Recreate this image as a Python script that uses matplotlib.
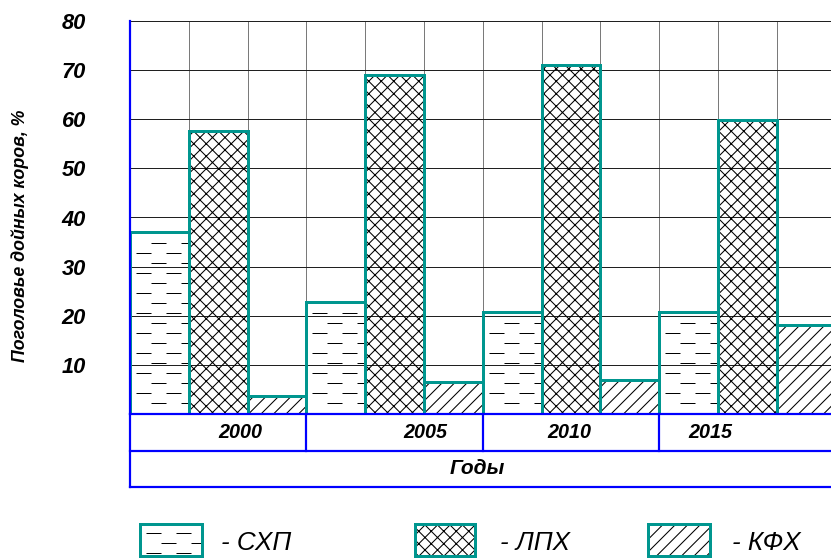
import numpy as np
import matplotlib
matplotlib.use('Agg')
import matplotlib.pyplot as plt
from matplotlib.patches import Rectangle
from matplotlib.lines import Line2D

# ---- data ----
years = ['2000', '2005', '2010', '2015']
series = ['СХП', 'ЛПХ', 'КФХ']
shp = [37.1, 22.8, 20.8, 20.7]
lph = [57.6, 69.0, 71.1, 59.9]
kfh = [3.7, 6.6, 6.9, 18.1]
y_ticks = [10, 20, 30, 40, 50, 60, 70, 80]
x_title = 'Годы'
y_title = 'Поголовье дойных коров, %'

# ---- style ----
DPI = 150
W, H = 831, 558
TEAL = '#00968F'
BLUE = '#0000FF'
FONT = ['Liberation Sans', 'DejaVu Sans']
plt.rcParams['hatch.linewidth'] = 0.5
plt.rcParams['lines.scale_dashes'] = False
px = 72.0 / DPI  # points per pixel

fig = plt.figure(figsize=(W / DPI, H / DPI), dpi=DPI)
fig.patch.set_facecolor('white')

def frac_x(p):
    return p / W

def frac_y(p):
    return p / H

ax_left, ax_right = 130, 835.5
ax_top, ax_bot = 21, 414
ax = fig.add_axes([frac_x(ax_left), frac_y(H - ax_bot), frac_x(ax_right - ax_left), frac_y(ax_bot - ax_top)])
ax.set_facecolor('none')
n_s = len(series)
n_g = len(years)
ax.set_xlim(0, n_s * n_g)
ax.set_ylim(0, 80)

# grid
ax.set_xticks(np.arange(0, n_s * n_g + 1))
ax.set_xticklabels([])
ax.set_yticks([0] + y_ticks)
ax.set_yticklabels([''] + [str(t) for t in y_ticks])
ax.tick_params(length=0, pad=44 * px)
for lab in ax.get_yticklabels():
    lab.set_fontfamily(FONT)
    lab.set_fontweight('bold')
    lab.set_fontstyle('italic')
    lab.set_fontsize(10.5)
ax.xaxis.grid(True, color='#7a7a7a', linewidth=1.0 * px, zorder=0)
ax.yaxis.grid(True, color='#202020', linewidth=1.0 * px, zorder=0)
ax.set_axisbelow(True)

ax.spines['right'].set_visible(False)
ax.spines['top'].set_color('#202020')
ax.spines['top'].set_linewidth(1.0 * px)
ax.spines['left'].set_color(BLUE)
ax.spines['left'].set_linewidth(2.2 * px)
ax.spines['bottom'].set_color(BLUE)
ax.spines['bottom'].set_linewidth(2.2 * px)
ax.spines['left'].set_zorder(6)
ax.spines['bottom'].set_zorder(6)

vals = [shp, lph, kfh]
hatches = [None, 'xxxx', '////']
DASH = 15 * px
ROW = 10 / ((ax_bot - ax_top) / 80.0)  # 10 px in data units

def dashed_fill(axis, patch, x0, x1, top, base_off):
    rows = np.arange(base_off, top, ROW)
    for i, yy in enumerate(rows):
        off = 0 if i % 2 == 0 else DASH
        ln = Line2D([x0, x1], [yy, yy], color='black', linewidth=1.0 * px,
                    linestyle=(off, (DASH, DASH)), zorder=3)
        axis.add_line(ln)
        ln.set_clip_path(patch)

for s in range(n_s):
    xs = np.arange(n_g) * n_s + s + 0.5
    if hatches[s] is not None:
        ax.bar(xs, vals[s], width=1.0, facecolor='none', edgecolor='black',
               linewidth=0, hatch=hatches[s], zorder=2)
    bars = ax.bar(xs, vals[s], width=1.0, facecolor='none', edgecolor=TEAL,
                  linewidth=3.0 * px, zorder=4)
    if hatches[s] is None:
        for b in bars:
            dashed_fill(ax, b, b.get_x() + 0.1, b.get_x() + b.get_width(),
                        b.get_height(), 0.3)

# ---- category table below ----
t_bot = 487
tab = fig.add_axes([frac_x(ax_left), frac_y(H - t_bot), frac_x(ax_right - ax_left), frac_y(t_bot - ax_bot)])
tab.set_xlim(0, n_s * n_g)
tab.set_ylim(0, 2)
tab.axis('off')
lw_t = 2.2 * px
tab.plot([0, n_s * n_g], [1, 1], color=BLUE, lw=lw_t, clip_on=False)
tab.plot([0, n_s * n_g], [0, 0], color=BLUE, lw=lw_t, clip_on=False)
tab.plot([0, 0], [0, 2], color=BLUE, lw=lw_t, clip_on=False)
for g in range(1, n_g):
    tab.plot([g * n_s, g * n_s], [1, 2], color=BLUE, lw=lw_t, clip_on=False)
year_pos = [1.87, 5.02, 7.47, 9.87]
for yp, yr in zip(year_pos, years):
    tab.text(yp, 1.5, yr, ha='center', va='center', fontsize=9.5,
             fontweight='bold', fontstyle='italic', family=FONT)
tab.text(5.9, 0.5, x_title, ha='center', va='center', fontsize=10,
         fontweight='bold', fontstyle='italic', family=FONT)

# ---- y title ----
fig.text(frac_x(20), 1 - frac_y(236), y_title, rotation=90, ha='center', va='center',
         fontsize=8.5, fontweight='bold', fontstyle='italic', family=FONT)

# ---- legend ----
lax = fig.add_axes([0, 0, 1, 1])
lax.set_xlim(0, W)
lax.set_ylim(H, 0)
lax.axis('off')
lax.patch.set_visible(False)
leg_boxes = [(140, 62), (415, 60), (648, 62)]
leg_text_x = [221, 500, 732]
ly0, lh = 524, 32
for s in range(n_s):
    x0, w = leg_boxes[s]
    if hatches[s] is not None:
        lax.add_patch(Rectangle((x0, ly0), w, lh, facecolor='none', edgecolor='black',
                                linewidth=0, hatch=hatches[s], zorder=2))
    border = Rectangle((x0, ly0), w, lh, facecolor='none', edgecolor=TEAL,
                       linewidth=3.0 * px, zorder=4)
    lax.add_patch(border)
    if hatches[s] is None:
        rows = [533, 543, 553]
        for i, yy in enumerate(rows):
            off = 0 if i % 2 == 0 else DASH
            ln = Line2D([x0 + 6, x0 + w], [yy, yy], color='black', linewidth=1.0 * px,
                        linestyle=(off, (DASH, DASH)), zorder=3)
            lax.add_line(ln)
            ln.set_clip_path(border)
    lax.text(leg_text_x[s], 542.5, '- ' + series[s], ha='left', va='center',
             fontsize=12.5, fontstyle='italic', family=FONT)

fig.savefig('out.png', dpi=DPI, facecolor='white')
